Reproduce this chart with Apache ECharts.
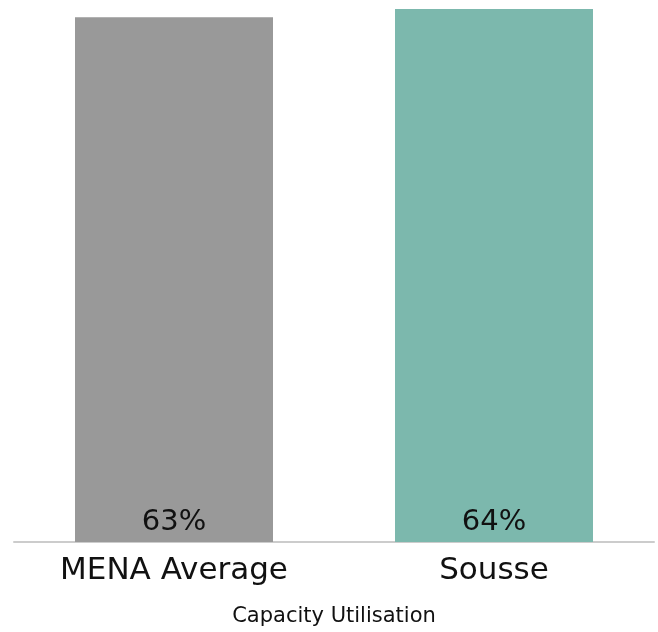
<!DOCTYPE html>
<html><head><meta charset="utf-8">
<script src="https://cdn.jsdelivr.net/npm/echarts@6/dist/echarts.min.js"></script>
<style>html,body{margin:0;padding:0;background:#fff}#c{width:658px;height:632px}</style>
</head><body><div id="c"></div>
<script>
const categories = ["MENA Average", "Sousse"];
const values = [63, 64];
const colors = ["#999999", "#7cb8ad"];
const FONT = "DejaVu Sans, sans-serif";
const chart = echarts.init(document.getElementById('c'), null, {width: 658, height: 632});
chart.setOption({
  animation: false,
  grid: {left: 14, width: 640, top: 9, height: 537, containLabel: false},
  xAxis: {
    type: 'category', data: categories,
    name: 'Capacity Utilisation', nameLocation: 'middle', nameGap: 64,
    nameTextStyle: {fontFamily: FONT, fontSize: 21, color: '#111'},
    axisLine: {lineStyle: {color: '#cccccc', width: 2}},
    axisTick: {show: false},
    axisLabel: {fontFamily: FONT, fontSize: 31, color: '#111', margin: 13}
  },
  yAxis: {type: 'value', min: 0, max: 64, show: false, splitLine: {show: false}},
  series: [{
    type: 'bar', barWidth: 198,
    data: values.map((v, i) => ({value: v, itemStyle: {color: colors[i]}})),
    label: {show: true, position: 'insideBottom', distance: 5, fontFamily: FONT, fontSize: 29, color: '#111',
      formatter: p => p.value + '%'}
  }]
});
</script></body></html>
